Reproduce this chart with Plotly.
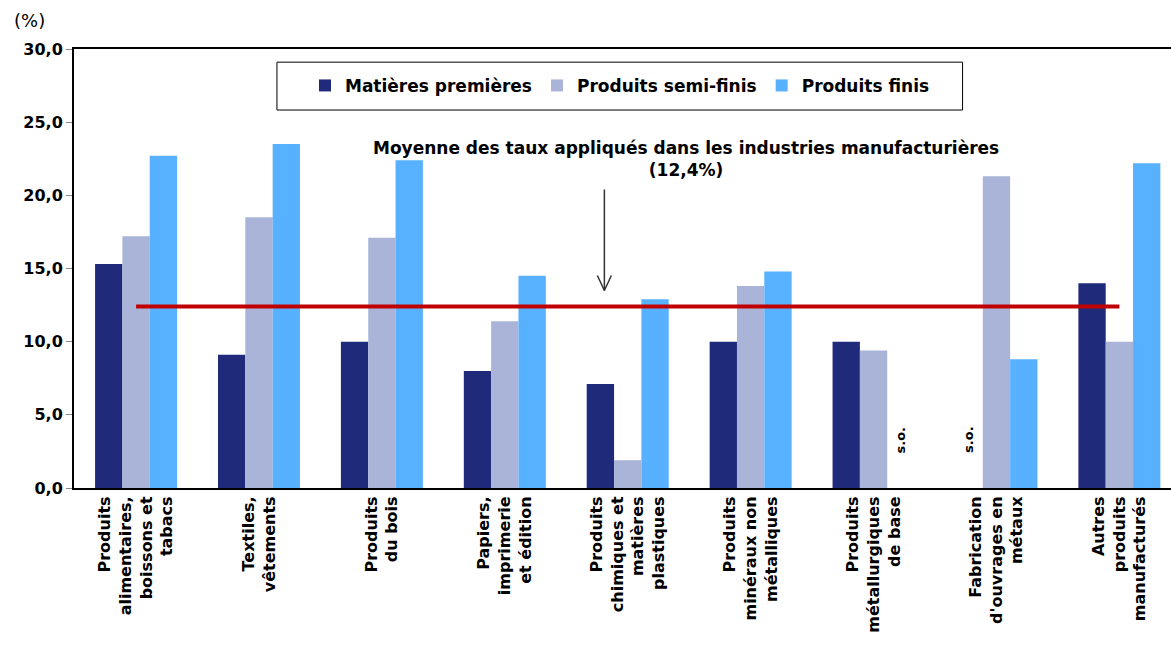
import plotly.graph_objects as go

categories = [
    "Produits<br>alimentaires,<br>boissons et<br>tabacs",
    "Textiles,<br>vêtements",
    "Produits<br>du bois",
    "Papiers,<br>imprimerie<br>et édition",
    "Produits<br>chimiques et<br>matières<br>plastiques",
    "Produits<br>minéraux non<br>métalliques",
    "Produits<br>métallurgiques<br>de base",
    "Fabrication<br>d'ouvrages en<br>métaux",
    "Autres<br>produits<br>manufacturés",
]
matieres = [15.3, 9.1, 10.0, 8.0, 7.1, 10.0, 10.0, None, 14.0]
semi_finis = [17.2, 18.5, 17.1, 11.4, 1.9, 13.8, 9.4, 21.3, 10.0]
finis = [22.7, 23.5, 22.4, 14.5, 12.9, 14.8, None, 8.8, 22.2]
moyenne = 12.4
series_names = ["Matières premières", "Produits semi-finis", "Produits finis"]
colors = ["#1F2A7A", "#A9B4D8", "#57B1FF"]
so_positions = [6.222, 6.778]  # bar slots with no data (s.o.)
y_ticks = [0, 5, 10, 15, 20, 25, 30]

xs = list(range(len(categories)))
FONT = "DejaVu Sans"

fig = go.Figure()
for name, vals, col in zip(series_names, [matieres, semi_finis, finis], colors):
    fig.add_trace(go.Bar(x=xs, y=vals, name=name, marker=dict(color=col, line=dict(width=0))))

fig.add_trace(go.Scatter(x=[xs[0], xs[-1]], y=[moyenne, moyenne], mode="lines",
                         line=dict(color="#C00000", width=4), showlegend=False, hoverinfo="skip"))

# arrow
arrow_x = 3.81
arrow_tail = 20.4
arrow_tip = 13.5
fig.add_shape(type="line", xref="x", yref="y", x0=arrow_x, x1=arrow_x, y0=arrow_tail, y1=arrow_tip,
              line=dict(color="#333333", width=1.5))
for dx in (-7, 7):
    fig.add_shape(type="line", xref="x", yref="y", xsizemode="pixel", ysizemode="pixel",
                  xanchor=arrow_x, yanchor=arrow_tip, x0=0, x1=dx, y0=0, y1=15,
                  line=dict(color="#333333", width=1.5))

fig.add_annotation(x=4.475, y=22.5, xref="x", yref="y", showarrow=False,
                   text="Moyenne des taux appliqués dans les industries manufacturières<br>(12,4%)",
                   font=dict(family=FONT, size=17, color="black", weight="bold"), yanchor="middle")

for p in so_positions:
    fig.add_annotation(x=p, y=3.3, xref="x", yref="y", showarrow=False, text="s.o.", textangle=-90,
                       font=dict(family=FONT, size=13, color="black", weight="bold"))

fig.add_annotation(x=-0.0565, y=1.066, xref="paper", yref="paper", showarrow=False, text="(%)",
                   xanchor="left", yanchor="middle", font=dict(family=FONT, size=18, color="black"))

# legend box
fig.add_shape(type="rect", xref="paper", yref="paper", x0=0.185, x1=0.810, y0=0.861, y1=0.970,
              line=dict(color="black", width=1), fillcolor="white", layer="below")

fig.update_layout(
    width=1171, height=648,
    margin=dict(l=74, r=0, t=49, b=160),
    paper_bgcolor="white", plot_bgcolor="white",
    barmode="group", bargap=0.333, bargroupgap=0,
    separators=", ",
    font=dict(family=FONT, color="black"),
    legend=dict(orientation="h", x=0.4977, xanchor="center", y=0.916, yanchor="middle",
                bgcolor="rgba(0,0,0,0)", font=dict(family=FONT, size=17, weight="bold"),
                itemclick=False),
    xaxis=dict(range=[-0.505, 8.42], tickvals=xs, ticktext=categories, tickangle=-90,
               showline=True, linecolor="black", linewidth=2, mirror=True,
               ticks="", showgrid=False, zeroline=False,
               tickfont=dict(family=FONT, size=16, weight="bold", color="black")),
    yaxis=dict(range=[0, 30], tickvals=y_ticks, tickformat=".1f", ticks="outside", ticklen=6,
               tickcolor="#888888", showline=True, linecolor="black", linewidth=2,
               showgrid=False, zeroline=False,
               tickfont=dict(family=FONT, size=16, weight="bold", color="black")),
)

fig.write_html("out.html")
